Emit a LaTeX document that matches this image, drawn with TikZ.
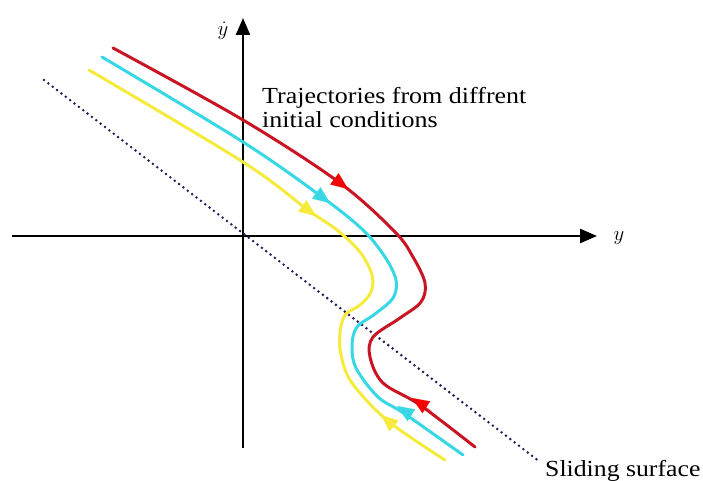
\documentclass[tikz,border=0pt]{standalone}
\usepackage{fontspec}
\setmainfont{Liberation Serif}
\usetikzlibrary{arrows.meta}
\definecolor{trajred}{RGB}{200,20,35}
\definecolor{arrred}{RGB}{245,0,0}
\definecolor{trajcyan}{RGB}{55,215,230}
\definecolor{trajyellow}{RGB}{245,235,60}
\definecolor{navydot}{RGB}{30,30,90}
\tikzset{
  axis/.style={line width=2.4pt, -{Triangle[length=17pt,width=14pt]}},
  traj/.style={line width=3pt, line cap=round, line join=round},
  tip/.style={line width=0.1pt, -{Triangle[length=17pt,width=14pt]}},
  surf/.style={navydot, line width=2.8pt, line cap=round, dash pattern=on 0pt off 5.5pt},
  lbl/.style={font=\fontsize{23}{24}\selectfont, anchor=base west, inner sep=0pt}
}
\begin{document}
\begin{tikzpicture}[x=1pt,y=-1pt]
\useasboundingbox (0,0) rectangle (703,481);
% axes
\coordinate (xl) at (12,236);
\coordinate (xr) at (597,236);
\coordinate (yb) at (243,448);
\coordinate (yt) at (243,18);
\draw[axis] (xl) -- (xr);
\draw[axis] (yb) -- (yt);
\node[inner sep=0pt, font=\fontsize{22}{22}\selectfont] (ylab) at (223,31) {$\dot{y}$};
\node[inner sep=0pt, font=\fontsize{22}{22}\selectfont] (xlab) at (619,238) {$y$};
% sliding surface
\coordinate (s1) at (44,80);
\coordinate (s2) at (540,462);
\draw[surf] (s1) -- (s2);
% trajectories
\draw[traj, trajred] plot[smooth, tension=0.55] coordinates {(113,48) (243,120) (340,183) (395,232) (413,257) (425,283) (421,302) (400,318) (373,337) (370,357) (383,383) (420,405) (475,447)};
\draw[traj, trajcyan] plot[smooth, tension=0.55] coordinates {(102,57) (243,142) (322,197) (363,230) (385,257) (396,280) (393,298) (375,314) (357,327) (352,345) (356,368) (378,397) (405,414) (463,455)};
\draw[traj, trajyellow] plot[smooth, tension=0.55] coordinates {(89,70) (243,162) (308,210) (337,230) (360,252) (372,275) (371,292) (360,305) (345,315) (340,333) (341,355) (352,383) (388,421) (445,460)};
% arrowheads
\draw[tip, arrred] (328,174) -- (348,189);
\draw[tip, trajcyan] (311,189) -- (330,203);
\draw[tip, trajyellow] (297,202) -- (316,216);
\draw[tip, arrred] (432,411) -- (412,398);
\draw[tip, trajcyan] (417,419) -- (397,406);
\draw[tip, trajyellow] (400,431) -- (381,415);
% labels
\node[lbl] (t1) at (262,104) {\scalebox{1.13}[1]{Trajectories from diffrent}};
\node[lbl] (t2) at (262,128) {\scalebox{1.13}[1]{initial conditions}};
\node[lbl] (t3) at (545,476) {\scalebox{1.12}[1]{Sliding surface}};
\end{tikzpicture}
\end{document}
